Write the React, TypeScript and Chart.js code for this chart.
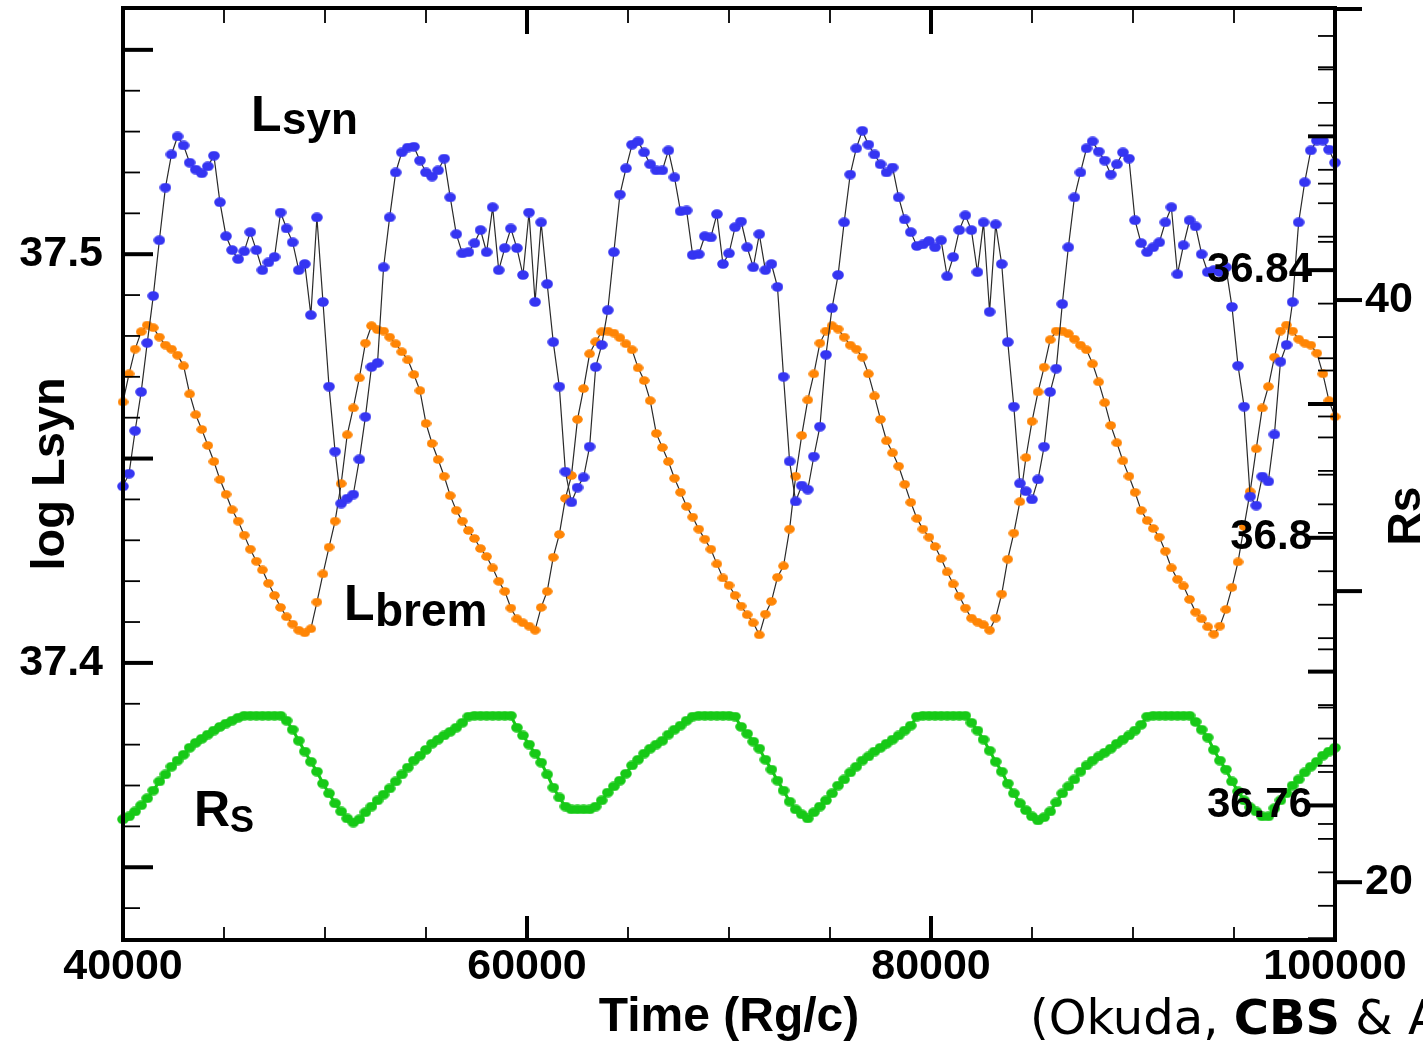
import React, { useEffect, useRef } from 'react';
import { Chart, registerables } from 'chart.js';

Chart.register(...registerables);

// ---- sampling grid (time in Rg/c) ----
const T_START = 40000;
const T_STEP = 300;

// ---- log L_syn (left axis) ----
const LSYN = [
  37.4432, 37.4463, 37.4568, 37.4663, 37.4783, 37.4898, 37.5034, 37.5163, 37.5244, 37.5288,
  37.5266, 37.5224, 37.5207, 37.5198, 37.5215, 37.5241, 37.5127, 37.5044, 37.5010, 37.4988,
  37.5007, 37.5054, 37.5010, 37.4961, 37.4980, 37.4993, 37.5102, 37.5063, 37.5029, 37.4961,
  37.4976, 37.4851, 37.5090, 37.4883, 37.4676, 37.4517, 37.4390, 37.4402, 37.4412, 37.4498,
  37.4602, 37.4724, 37.4734, 37.4968, 37.5090, 37.5200, 37.5249, 37.5261, 37.5263, 37.5229,
  37.5200, 37.5190, 37.5205, 37.5234, 37.5139, 37.5049, 37.5002, 37.5005, 37.5027, 37.5059,
  37.5005, 37.5115, 37.4961, 37.5015, 37.5063, 37.5015, 37.4949, 37.5102, 37.4883, 37.5078,
  37.4927, 37.4785, 37.4676, 37.4468, 37.4393, 37.4429, 37.4454, 37.4529, 37.4724, 37.4778,
  37.4863, 37.5005, 37.5146, 37.5210, 37.5268, 37.5276, 37.5249, 37.5220, 37.5205, 37.5205,
  37.5254, 37.5188, 37.5105, 37.5107, 37.4998, 37.5000, 37.5044, 37.5041, 37.5098, 37.4976,
  37.5002, 37.5066, 37.5080, 37.5017, 37.4968, 37.5049, 37.4961, 37.4976, 37.4920, 37.4700,
  37.4493, 37.4395, 37.4434, 37.4424, 37.4505, 37.4578, 37.4754, 37.4868, 37.4949, 37.5078,
  37.5195, 37.5259, 37.5302, 37.5268, 37.5244, 37.5220, 37.5200, 37.5212, 37.5139, 37.5085,
  37.5054, 37.5020, 37.5024, 37.5032, 37.5017, 37.5034, 37.4946, 37.4993, 37.5059, 37.5095,
  37.5059, 37.4956, 37.5078, 37.4859, 37.5073, 37.4976, 37.4785, 37.4627, 37.4439, 37.4420,
  37.4400, 37.4449, 37.4529, 37.4663, 37.4720, 37.4878, 37.5017, 37.5139, 37.5200, 37.5259,
  37.5276, 37.5251, 37.5229, 37.5195, 37.5220, 37.5249, 37.5234, 37.5083, 37.5027, 37.5005,
  37.5017, 37.5029, 37.5078, 37.5115, 37.4951, 37.5022, 37.5083, 37.5068, 37.5000, 37.4956,
  37.4961, 37.4956, 37.4968, 37.4871, 37.4727, 37.4627, 37.4407, 37.4385, 37.4456, 37.4444,
  37.4559, 37.4737, 37.4778, 37.4883, 37.5078, 37.5176, 37.5254, 37.5278, 37.5278, 37.5256,
  37.5224,
];

// ---- log L_brem (inner right axis) ----
const LBREM = [
  36.8203, 36.8245, 36.8282, 36.8308, 36.8318, 36.8314, 36.8300, 36.8288, 36.8282, 36.8273,
  36.8257, 36.8215, 36.8184, 36.8162, 36.8138, 36.8114, 36.8087, 36.8065, 36.8042, 36.8025,
  36.8004, 36.7983, 36.7965, 36.7952, 36.7932, 36.7914, 36.7896, 36.7882, 36.7871, 36.7862,
  36.7858, 36.7864, 36.7904, 36.7946, 36.7986, 36.8025, 36.8081, 36.8154, 36.8194, 36.8239,
  36.8291, 36.8317, 36.8311, 36.8309, 36.8300, 36.8290, 36.8278, 36.8266, 36.8244, 36.8220,
  36.8171, 36.8141, 36.8117, 36.8092, 36.8063, 36.8041, 36.8025, 36.8011, 36.7999, 36.7984,
  36.7972, 36.7955, 36.7935, 36.7920, 36.7895, 36.7879, 36.7873, 36.7868, 36.7862, 36.7896,
  36.7920, 36.7971, 36.8005, 36.8059, 36.8093, 36.8177, 36.8223, 36.8275, 36.8293, 36.8308,
  36.8309, 36.8306, 36.8299, 36.8290, 36.8281, 36.8254, 36.8235, 36.8205, 36.8156, 36.8135,
  36.8114, 36.8089, 36.8068, 36.8047, 36.8031, 36.8013, 36.7998, 36.7983, 36.7961, 36.7940,
  36.7929, 36.7914, 36.7898, 36.7885, 36.7873, 36.7855, 36.7886, 36.7905, 36.7941, 36.7958,
  36.8013, 36.8092, 36.8153, 36.8206, 36.8245, 36.8291, 36.8309, 36.8317, 36.8312, 36.8300,
  36.8288, 36.8282, 36.8270, 36.8245, 36.8212, 36.8177, 36.8145, 36.8127, 36.8107, 36.8080,
  36.8053, 36.8029, 36.8013, 36.8001, 36.7987, 36.7969, 36.7949, 36.7931, 36.7913, 36.7895,
  36.7880, 36.7874, 36.7870, 36.7862, 36.7880, 36.7916, 36.7968, 36.8007, 36.8054, 36.8120,
  36.8174, 36.8218, 36.8255, 36.8296, 36.8309, 36.8309, 36.8305, 36.8297, 36.8288, 36.8281,
  36.8260, 36.8233, 36.8202, 36.8168, 36.8142, 36.8115, 36.8092, 36.8068, 36.8041, 36.8026,
  36.8014, 36.8001, 36.7980, 36.7955, 36.7938, 36.7928, 36.7908, 36.7889, 36.7879, 36.7867,
  36.7856, 36.7868, 36.7893, 36.7926, 36.7964, 36.8017, 36.8069, 36.8133, 36.8194, 36.8226,
  36.8270, 36.8309, 36.8318, 36.8309, 36.8297, 36.8291, 36.8288, 36.8276, 36.8245, 36.8205,
  36.8181,
];

// ---- shock radius Rs (outer right axis) ----
const RS = [
  22.16, 22.26, 22.43, 22.64, 22.88, 23.15, 23.46, 23.70, 23.97, 24.18,
  24.38, 24.62, 24.79, 24.93, 25.07, 25.21, 25.34, 25.45, 25.55, 25.65,
  25.72, 25.72, 25.72, 25.72, 25.72, 25.72, 25.72, 25.55, 25.24, 24.86,
  24.49, 24.14, 23.80, 23.39, 23.05, 22.71, 22.43, 22.19, 22.05, 22.16,
  22.40, 22.60, 22.81, 23.01, 23.22, 23.46, 23.70, 23.94, 24.18, 24.35,
  24.55, 24.76, 24.90, 25.04, 25.17, 25.31, 25.48, 25.69, 25.72, 25.72,
  25.72, 25.72, 25.72, 25.72, 25.72, 25.31, 25.04, 24.73, 24.42, 24.11,
  23.70, 23.25, 22.91, 22.60, 22.50, 22.50, 22.50, 22.50, 22.60, 22.81,
  23.08, 23.29, 23.49, 23.73, 24.01, 24.21, 24.42, 24.59, 24.73, 24.86,
  25.07, 25.24, 25.38, 25.55, 25.69, 25.72, 25.72, 25.72, 25.72, 25.72,
  25.72, 25.69, 25.34, 25.10, 24.83, 24.59, 24.21, 23.87, 23.49, 23.15,
  22.77, 22.50, 22.33, 22.19, 22.40, 22.60, 22.81, 23.05, 23.32, 23.53,
  23.77, 23.97, 24.18, 24.32, 24.49, 24.62, 24.76, 24.90, 25.04, 25.21,
  25.38, 25.69, 25.72, 25.72, 25.72, 25.72, 25.72, 25.72, 25.72, 25.72,
  25.48, 25.21, 24.90, 24.52, 24.14, 23.80, 23.39, 23.05, 22.71, 22.47,
  22.26, 22.12, 22.23, 22.43, 22.74, 23.05, 23.29, 23.53, 23.80, 24.01,
  24.18, 24.32, 24.45, 24.59, 24.76, 24.90, 25.04, 25.21, 25.41, 25.69,
  25.72, 25.72, 25.72, 25.72, 25.72, 25.72, 25.72, 25.51, 25.24, 24.97,
  24.55, 24.18, 23.87, 23.46, 23.12, 22.81, 22.57, 22.43, 22.26, 22.26,
  22.54, 22.81, 23.05, 23.32, 23.53, 23.77, 23.97, 24.14, 24.35, 24.49,
  24.62,
];

// ---- tick labels ----
const X_TICKS = [40000, 60000, 80000, 100000];
const LSYN_TICKS = [37.4, 37.5];
const LBREM_TICKS = [36.76, 36.8, 36.84];
const RS_TICKS = [20, 40];

const TIMES = LSYN.map((_, i) => T_START + i * T_STEP);

const FONT = '"Liberation Sans", Arial, Helvetica, sans-serif';

function makeDot(w: number, h: number, color: string) {
  const c = document.createElement('canvas');
  c.width = w;
  c.height = h;
  const g = c.getContext('2d')!;
  g.fillStyle = color;
  g.beginPath();
  g.ellipse(w / 2, h / 2, w / 2 - 0.2, h / 2 - 0.2, 0, 0, Math.PI * 2);
  g.fill();
  return c;
}

const decorPlugin = {
  id: 'decor',
  afterDatasetsDraw(chart: any) {
    const { ctx, chartArea: a, scales } = chart;
    const sx = scales.x;
    const sL = scales.ySyn;
    const sB = scales.yBrem;
    const sR = scales.yRs;
    ctx.save();
    ctx.strokeStyle = '#000';
    ctx.lineCap = 'butt';
    const seg = (x1: number, y1: number, x2: number, y2: number, w: number) => {
      ctx.lineWidth = w;
      ctx.beginPath();
      ctx.moveTo(x1, y1);
      ctx.lineTo(x2, y2);
      ctx.stroke();
    };
    const inY = (py: number) => py >= a.top - 1 && py <= a.bottom + 1;

    // top & bottom ticks (time)
    for (let k = 8; k <= 20; k++) {
      const px = sx.getPixelForValue(k * 5000);
      const major = k % 4 === 0;
      seg(px, a.bottom, px, a.bottom - (major ? 24 : 13), major ? 4 : 1.8);
      seg(px, a.top, px, a.top + (major ? 26 : 15), major ? 4 : 1.8);
    }
    // left ticks (log Lsyn)
    for (let k = 3734; k <= 3756; k++) {
      const py = sL.getPixelForValue(k / 100);
      if (!inY(py)) continue;
      const major = k % 5 === 0;
      seg(a.left, py, a.left + (major ? 30 : 17), py, major ? 4 : 1.8);
    }
    // inner right ticks (log Lbrem)
    for (let k = 36740; k <= 36875; k += 5) {
      const py = sB.getPixelForValue(k / 1000);
      if (!inY(py)) continue;
      const major = k % 20 === 0;
      seg(a.right, py, a.right - (major ? 27 : 17), py, major ? 4 : 1.8);
    }
    // outer right ticks (Rs)
    for (let v = 18; v <= 50; v += 2) {
      const py = sR.getPixelForValue(v);
      if (!inY(py)) continue;
      if (v % 10 === 0) seg(a.right, py, a.right + 27, py, 4);
      else seg(a.right, py, a.right - 17, py, 1.8);
    }
    // frame
    ctx.lineWidth = 4;
    ctx.strokeRect(a.left, a.top, a.right - a.left, a.bottom - a.top);

    // inner right labels (Lbrem)
    ctx.fillStyle = '#000';
    ctx.font = `bold 42px ${FONT}`;
    ctx.textAlign = 'right';
    ctx.textBaseline = 'middle';
    LBREM_TICKS.forEach((v) => {
      ctx.fillText(String(v), a.right - 23, sB.getPixelForValue(v));
    });

    // curve annotations
    ctx.textAlign = 'left';
    ctx.textBaseline = 'alphabetic';
    ctx.font = `bold 50px ${FONT}`;
    ctx.fillText('L', 251, 131);
    ctx.font = `bold 44px ${FONT}`;
    ctx.fillText('syn', 282, 134);

    ctx.font = `bold 50px ${FONT}`;
    ctx.fillText('L', 344, 620);
    ctx.font = `bold 46px ${FONT}`;
    ctx.fillText('brem', 375, 626);

    ctx.font = `bold 50px ${FONT}`;
    ctx.fillText('R', 194, 826);
    ctx.font = `bold 36px ${FONT}`;
    ctx.fillText('S', 230, 832);

    // right axis title (reads bottom to top)
    ctx.save();
    ctx.translate(1420, 516);
    ctx.rotate(-Math.PI / 2);
    ctx.textAlign = 'center';
    ctx.font = `bold 46px ${FONT}`;
    ctx.fillText('Rs', 0, 0);
    ctx.restore();

    // citation
    const cf = '"DejaVu Sans", Verdana, sans-serif';
    let cx = 1030;
    const cy = 1034;
    ctx.textAlign = 'left';
    ctx.font = `48px ${cf}`;
    ctx.fillText('(Okuda, ', cx, cy);
    cx += ctx.measureText('(Okuda, ').width;
    ctx.font = `bold 48px ${cf}`;
    ctx.fillText('CBS', cx, cy);
    cx += ctx.measureText('CBS').width;
    ctx.font = `48px ${cf}`;
    ctx.fillText(' & A', cx, cy);

    ctx.restore();
  },
};

export default function App() {
  const ref = useRef<HTMLCanvasElement>(null);

  useEffect(() => {
    document.body.style.margin = '0';
    document.body.style.overflow = 'hidden';
    const canvas = ref.current!;
    const dotBlue = makeDot(12, 10, '#3535f2');
    const dotOrange = makeDot(11, 9, '#ff8505');
    const dotGreen = makeDot(12, 10, '#17c917');
    const tickFont = { family: FONT, size: 43, weight: 'bold' as const };

    const chart = new Chart(canvas, {
      type: 'scatter',
      data: {
        datasets: [
          {
            label: 'Lsyn',
            data: TIMES.map((t, i) => ({ x: t, y: LSYN[i] })),
            yAxisID: 'ySyn',
            showLine: true,
            borderColor: '#2a2a2a',
            borderWidth: 1.2,
            pointStyle: dotBlue as any,
            pointRadius: 5,
            clip: 10,
          },
          {
            label: 'Lbrem',
            data: TIMES.map((t, i) => ({ x: t, y: LBREM[i] })),
            yAxisID: 'yBrem',
            showLine: true,
            borderColor: '#2a2a2a',
            borderWidth: 1.2,
            pointStyle: dotOrange as any,
            pointRadius: 5,
            clip: 10,
          },
          {
            label: 'Rs',
            data: TIMES.map((t, i) => ({ x: t, y: RS[i] })),
            yAxisID: 'yRs',
            showLine: true,
            borderColor: '#17c917',
            borderWidth: 3,
            pointStyle: dotGreen as any,
            pointRadius: 5,
            clip: 10,
          },
        ],
      },
      options: {
        animation: false,
        responsive: false,
        events: [],
        layout: { padding: { top: 5, left: 0, right: 0, bottom: 0 } },
        plugins: { legend: { display: false }, tooltip: { enabled: false } },
        scales: {
          x: {
            type: 'linear',
            position: 'bottom',
            min: 40000,
            max: 100000,
            grid: { display: false, drawTicks: false },
            border: { display: false },
            afterBuildTicks: (s: any) => {
              s.ticks = X_TICKS.map((v) => ({ value: v }));
            },
            afterFit: (s: any) => {
              s.height = 103;
              s.paddingLeft = 0;
              s.paddingRight = 0;
              s.paddingTop = 0;
              s.paddingBottom = 0;
            },
            ticks: {
              autoSkip: false,
              maxRotation: 0,
              minRotation: 0,
              padding: 1,
              color: '#000',
              font: tickFont,
              callback: (v: any) => String(v),
            },
            title: {
              display: true,
              text: 'Time (Rg/c)',
              color: '#000',
              font: { family: FONT, size: 48, weight: 'bold', lineHeight: 1 },
              padding: { top: 0, bottom: 1 },
            },
          },
          ySyn: {
            type: 'linear',
            position: 'left',
            min: 37.3322,
            max: 37.56024,
            grid: { display: false, drawTicks: false },
            border: { display: false },
            afterBuildTicks: (s: any) => {
              s.ticks = LSYN_TICKS.map((v) => ({ value: v }));
            },
            afterFit: (s: any) => {
              s.width = 123;
              s.paddingTop = 0;
              s.paddingBottom = 0;
            },
            ticks: { padding: 20, color: '#000', font: tickFont },
            title: {
              display: true,
              text: 'log Lsyn',
              color: '#000',
              font: { family: FONT, size: 47, weight: 'bold', lineHeight: 1 },
              padding: { top: 28, bottom: 0 },
            },
          },
          yBrem: {
            type: 'linear',
            position: 'right',
            display: false,
            weight: 0,
            min: 36.73989,
            max: 36.87918,
          },
          yRs: {
            type: 'linear',
            position: 'right',
            weight: 1,
            min: 18.014,
            max: 50.034,
            grid: { display: false, drawTicks: false },
            border: { display: false },
            afterBuildTicks: (s: any) => {
              s.ticks = RS_TICKS.map((v) => ({ value: v }));
            },
            afterFit: (s: any) => {
              s.width = 88;
              s.paddingTop = 0;
              s.paddingBottom = 0;
            },
            ticks: { padding: 30, color: '#000', font: tickFont },
          },
        },
      } as any,
      plugins: [decorPlugin],
    });

    return () => chart.destroy();
  }, []);

  return (
    <div style={{ width: 1423, height: 1043, overflow: 'hidden' }}>
      <canvas ref={ref} width={1423} height={1043} style={{ display: 'block', width: 1423, height: 1043 }} />
    </div>
  );
}
